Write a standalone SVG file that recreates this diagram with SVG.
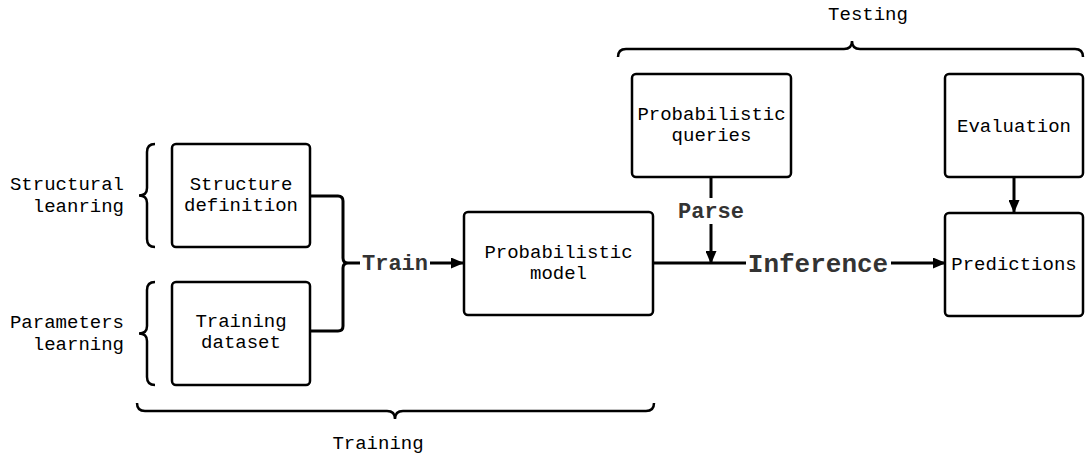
<svg xmlns="http://www.w3.org/2000/svg" width="1087" height="459" viewBox="0 0 1087 459">
<defs>
<style>
.box{fill:#fff;stroke:#000;stroke-width:2.5}
.t{font-family:"Liberation Mono","DejaVu Sans Mono",monospace;font-size:19px;fill:#000;text-anchor:middle}
.r{text-anchor:end}
.lb{font-family:"Liberation Mono","DejaVu Sans Mono",monospace;font-weight:bold;fill:#333;text-anchor:middle}
.c{fill:none;stroke:#000;stroke-width:3}
.br{fill:none;stroke:#000;stroke-width:2.5}
.bg{fill:#fff}
</style>
<marker id="ah" markerWidth="13" markerHeight="11" refX="12" refY="5.5" orient="auto" markerUnits="userSpaceOnUse">
<path d="M0,0 L13,5.5 L0,11 Z" fill="#000"/>
</marker>
</defs>
<rect width="1087" height="459" fill="#fff"/>

<g id="braces">
<path class="br" d="M155,144 Q147,144 147,152 V188 Q147,195.5 139,195.5 Q147,195.5 147,203 V239 Q147,247 155,247"/>
<path class="br" d="M155,282 Q147,282 147,290 V326 Q147,333.5 139,333.5 Q147,333.5 147,341 V377 Q147,385 155,385"/>
<path class="br" d="M137,403 Q137,411 145,411 H387 Q395,411 395,419 Q395,411 403,411 H646 Q654,411 654,403"/>
<path class="br" d="M618,57 Q618,49 626,49 H844 Q852,49 852,41 Q852,49 860,49 H1075 Q1083,49 1083,57"/>
</g>

<g id="labels">
<text class="t r" x="124" y="190">Structural</text>
<text class="t r" x="124" y="212">leanring</text>
<text class="t r" x="124" y="328">Parameters</text>
<text class="t r" x="124" y="350">learning</text>
<text class="t" x="378" y="449">Training</text>
<text class="t" x="868" y="20">Testing</text>
</g>

<g id="connectors">
<path class="c" d="M310,196 H338 Q343,196 343,201 V258 Q343,263 348,263 Q343,263 343,268 V326 Q343,331 338,331 H310"/>
<path class="c" d="M348,263 H463" marker-end="url(#ah)"/>
<rect class="bg" x="360" y="250" width="70" height="26"/>
<text class="lb" x="395" y="270" font-size="22">Train</text>
<path class="c" d="M653,263 H945" marker-end="url(#ah)"/>
<path class="c" d="M711,177 V263" marker-end="url(#ah)"/>
<rect class="bg" x="675" y="198" width="72" height="26"/>
<text class="lb" x="711" y="218" font-size="22">Parse</text>
<rect class="bg" x="746" y="248" width="145" height="30"/>
<text class="lb" x="818" y="272" font-size="26">Inference</text>
<path class="c" d="M1014,177 V212" marker-end="url(#ah)"/>
</g>

<g id="structure-definition">
<rect class="box" x="172" y="144" width="138" height="103" rx="4"/>
<text class="t" x="241" y="190">Structure</text>
<text class="t" x="241" y="211">definition</text>
</g>
<g id="training-dataset">
<rect class="box" x="172" y="282" width="138" height="103" rx="4"/>
<text class="t" x="241" y="327">Training</text>
<text class="t" x="241" y="348">dataset</text>
</g>
<g id="probabilistic-model">
<rect class="box" x="464" y="212" width="189" height="103" rx="4"/>
<text class="t" x="558.5" y="258">Probabilistic</text>
<text class="t" x="558.5" y="279">model</text>
</g>
<g id="probabilistic-queries">
<rect class="box" x="632" y="74" width="159" height="103" rx="4"/>
<text class="t" x="711.5" y="120">Probabilistic</text>
<text class="t" x="711.5" y="141">queries</text>
</g>
<g id="evaluation">
<rect class="box" x="945" y="74" width="138" height="103" rx="4"/>
<text class="t" x="1014" y="132">Evaluation</text>
</g>
<g id="predictions">
<rect class="box" x="945" y="213" width="138" height="103" rx="4"/>
<text class="t" x="1014" y="270">Predictions</text>
</g>
</svg>
